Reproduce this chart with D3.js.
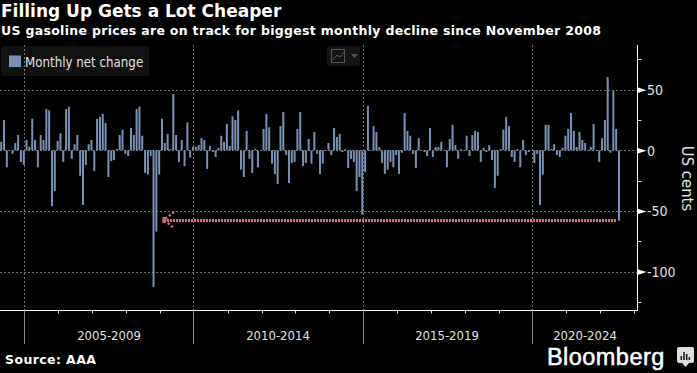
<!DOCTYPE html>
<html><head><meta charset="utf-8">
<style>html,body{margin:0;padding:0;background:#000}svg{display:block}</style>
<script src="https://cdn.jsdelivr.net/npm/d3@7/dist/d3.min.js"></script>
</head><body><svg id="c" width="697" height="373"></svg>
<script>
const monthlyChange = [
7,25,-14,0.3,-3,6,12.6,-9.6,-12,8.5,3,26,8.5,-14,12.6,8.5,34,33,-46,-33.5,7.7,14,-9.6,34,36,-7,5,12.6,-21,-45,-12,5,8.5,-17,26,27.5,30,22.5,-22,-9,-8,1,12.6,17,-3,-4.7,18.4,12.6,34,36,12,-18.7,-20,-4.7,-112.6,-67,-20,26,6,13.5,1,46.4,12.6,-9.6,8.5,-13,23,-6,3,3,4.4,10,8.5,-15.4,3.6,-1.4,-5.5,2,12,7,21.7,3.6,
28,25,33,-16,-22,16,-7,-18.7,1,-14,0.3,17.6,30,19,-11,-19.5,-27.7,20,31.6,-3.8,-27,-10.4,-9.6,17.6,31.6,-13,-10.4,9.3,-11,15,-3,-19.5,-11,0.3,6,-3.8,18.4,11,13.5,-1.4,1,-14.6,-7,-9.6,-33.5,-22,-53,-18,36.5,0.3,20,15,2.7,-10.4,-19.5,-16,-9.6,-14,-3.8,-19.5,-2,30.8,16,12,-3,-14.6,10,0.3,-1.4,-4.7,18.4,-5.5,2.7,2.7,7,0.3,-14,9.3,
21,4.4,-7,1,0.3,12,-4.7,12.6,16,15,-9.6,2,-1.4,4.4,-8,-31,-21,1,17,27.5,20,-5.5,-9.6,1,-14,8.5,-3.8,-1.4,0.3,-10.4,-3,-45,-20,21,21,1,5,-3.8,-5.5,2,12,17.6,30.8,16,2.7,15,8.5,6,0.3,2.7,21.7,-0.5,-9.6,10,25,60.4,-2,49,17.6,-58
];
const periodLabels = ["2005-2009","2010-2014","2015-2019","2020-2024"];
const periodStarts = [0,60,120,180];
const yMajor = [50,0,-50,-100];
const yMinor = [75,25,-25,-75,-125];
const calloutValue = -57.5;

const svg = d3.select("#c");
const FONT = "'DejaVu Sans Condensed','DejaVu Sans',sans-serif";
const y = d3.scaleLinear().domain([0,-100]).range([150.3,271.6]);
const xBar = d3.scaleLinear().domain([0,monthlyChange.length-1]).range([1.2,619]);
const xTime = d3.scaleLinear().domain([0,180]).range([24.5,532.5]);
const axisX = 637.5, axisBottom = 310.5, plotTop = 45;

const g = svg.append("g");
// grid
const gridCol = "#6e6e6e";
g.selectAll(".gy").data(yMajor).join("line").attr("x1",0).attr("x2",axisX)
 .attr("y1",d=>Math.round(y(d))+.5).attr("y2",d=>Math.round(y(d))+.5)
 .attr("stroke",gridCol).attr("stroke-dasharray","2,2");
g.selectAll(".gx").data(periodStarts).join("line")
 .attr("x1",d=>Math.floor(xTime(d))+.5).attr("x2",d=>Math.floor(xTime(d))+.5)
 .attr("y1",plotTop).attr("y2",axisBottom)
 .attr("stroke",gridCol).attr("stroke-dasharray","2,2");
// bars
g.selectAll(".b").data(monthlyChange).join("rect")
 .attr("x",(d,i)=>xBar(i)-1).attr("width",2)
 .attr("y",d=>Math.min(y(d),y(0))).attr("height",d=>Math.max(Math.abs(y(d)-y(0)),0.6))
 .attr("fill","#7891b4");
// callout
const ay = y(calloutValue);
const red = "#e8667a";
g.append("line").attr("x1",616).attr("x2",167).attr("y1",ay).attr("y2",ay)
 .attr("stroke",red).attr("stroke-width",3).attr("stroke-dasharray","2,1").attr("shape-rendering","crispEdges");
g.append("path").attr("d",`M174,${ay-8}L164,${ay}L174,${ay+8}`).attr("fill","none")
 .attr("stroke",red).attr("stroke-width",2.4).attr("stroke-dasharray","2.2,2.2");
g.append("rect").attr("x",162.5).attr("y",ay-3).attr("width",3).attr("height",6).attr("fill",red);
// axes
const yAxis = d3.axisRight(y).tickValues(yMajor).tickSize(0).tickPadding(0).tickFormat(d=>d);
const ya = svg.append("g").attr("transform",`translate(${axisX},0)`).call(yAxis);
ya.select(".domain").remove();
ya.selectAll("text").attr("x",9.5).attr("dy","0.35em").attr("fill","#e0e0e0").attr("font-family",FONT).attr("font-size",14);
ya.selectAll(".tick").append("path").attr("d","M0,-2.8L9,0L0,2.8Z").attr("fill","#fff");
svg.append("line").attr("x1",axisX).attr("x2",axisX).attr("y1",plotTop).attr("y2",axisBottom+.5).attr("stroke","#fff");
svg.selectAll(".mn").data(yMinor).join("line").attr("x1",axisX).attr("x2",axisX+4)
 .attr("y1",d=>Math.round(y(d))+.5).attr("y2",d=>Math.round(y(d))+.5).attr("stroke","#ddd");
svg.append("line").attr("x1",0).attr("x2",axisX).attr("y1",axisBottom).attr("y2",axisBottom).attr("stroke","#fff");
const yearTicks = d3.range(0,228,12).filter(d=>d%60!==0);
svg.selectAll(".yt").data(yearTicks).join("line")
 .attr("x1",d=>Math.round(xTime(d))+.5).attr("x2",d=>Math.round(xTime(d))+.5)
 .attr("y1",axisBottom).attr("y2",axisBottom+3).attr("stroke","#ddd");
svg.selectAll(".pt").data(periodStarts).join("line")
 .attr("x1",d=>Math.floor(xTime(d))+.5).attr("x2",d=>Math.floor(xTime(d))+.5)
 .attr("y1",axisBottom).attr("y2",344).attr("stroke","#8a8a8a");
svg.selectAll(".pl").data(periodLabels).join("text")
 .attr("x",(d,i)=>[109,278,447,585][i]).attr("y",340).attr("text-anchor","middle")
 .attr("fill","#e0e0e0").attr("font-family",FONT).attr("font-size",13).text(d=>d);
svg.append("text").attr("transform","translate(688,178.5) rotate(90)").attr("text-anchor","middle")
 .attr("fill","#e0e0e0").attr("font-family",FONT).attr("font-size",16.5).attr("dy","0.35em").text("US cents");
// legend
svg.append("rect").attr("x",1).attr("y",46).attr("width",148).attr("height",30).attr("rx",3).attr("fill","#fff").attr("fill-opacity",0.065);
svg.append("rect").attr("x",9).attr("y",55.5).attr("width",12).attr("height",11.5).attr("fill","#7891b4");
svg.append("text").attr("x",25).attr("y",67).attr("fill","#e0e0e0").attr("font-family",FONT).attr("font-size",13.2).text("Monthly net change");
// icon
svg.append("rect").attr("x",327).attr("y",46).attr("width",33).attr("height",20).attr("rx",2).attr("fill","#161616");
svg.append("rect").attr("x",331.5).attr("y",49.5).attr("width",13).attr("height",13).attr("fill","none").attr("stroke","#555");
svg.append("path").attr("d","M333,60L337,55L340,57L344,52").attr("fill","none").attr("stroke","#555");
svg.append("path").attr("d","M351,54L358,54L354.5,58Z").attr("fill","#555");
// titles
const BOLD = "'DejaVu Sans',sans-serif";
svg.append("text").attr("x",1).attr("y",17).attr("fill","#fff").attr("font-family",BOLD).attr("font-weight",700).attr("font-size",17).text("Filling Up Gets a Lot Cheaper");
svg.append("text").attr("x",1).attr("y",35).attr("fill","#fff").attr("font-family",BOLD).attr("font-weight",700).attr("font-size",12.5).attr("letter-spacing",0.31).text("US gasoline prices are on track for biggest monthly decline since November 2008");
svg.append("text").attr("x",5).attr("y",364).attr("fill","#fff").attr("font-family",BOLD).attr("font-weight",700).attr("font-size",12.5).attr("letter-spacing",0.4).text("Source: AAA");
svg.append("text").attr("x",547).attr("y",365).attr("fill","#fff").attr("stroke","#fff").attr("stroke-width",0.5).attr("font-family","'Liberation Sans',sans-serif").attr("font-size",23.5).attr("letter-spacing",0.45).text("Bloomberg");
// logo
svg.append("rect").attr("x",677).attr("y",347).attr("width",17).attr("height",16).attr("rx",2).attr("fill","#ddd");
svg.append("path").attr("d","M682,363L685.5,367L689,363Z").attr("fill","#ddd");
svg.selectAll(".lg").data([4,8,6,3]).join("rect").attr("x",(d,i)=>680.5+i*2.7).attr("y",d=>360-d).attr("width",1.6).attr("height",d=>d).attr("fill","#222");
</script></body></html>
